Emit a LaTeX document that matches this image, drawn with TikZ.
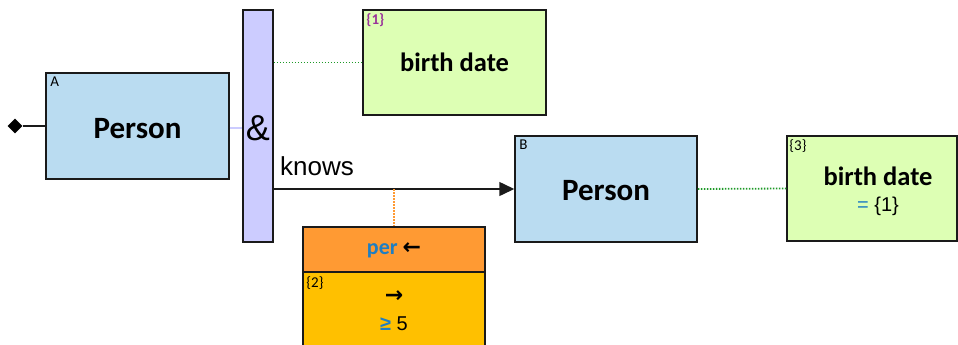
\documentclass[tikz,border=0pt]{standalone}
\usepackage{fontspec}
\setmainfont{Liberation Sans}
\newfontfamily\calfnt{Carlito}
\newfontfamily\dvfnt{DejaVu Sans}
\usetikzlibrary{shapes.geometric,arrows.meta}
\definecolor{pblue}{HTML}{BADCF1}
\definecolor{pgreen}{HTML}{DDFFB4}
\definecolor{plav}{HTML}{CCCCFF}
\definecolor{porange}{HTML}{FF9A33}
\definecolor{pyellow}{HTML}{FFC000}
\definecolor{tblue}{HTML}{1F7EC2}
\definecolor{tpurple}{HTML}{993399}
\definecolor{dgreen}{HTML}{1E9A28}
\definecolor{dorange}{HTML}{FF9A33}
\definecolor{bord}{HTML}{1A1A1A}
\tikzset{
  boxs/.style={draw=bord,line width=1.5pt,inner sep=0pt,rectangle},
  big/.style={font=\calfnt\bfseries\fontsize{31}{31}\selectfont},
  mid/.style={font=\calfnt\bfseries\fontsize{26.5}{26.5}\selectfont},
  tag/.style={font=\calfnt\fontsize{15}{15}\selectfont,anchor=north west,inner sep=0pt},
  gdot/.style={dgreen,line width=1.8pt,dash pattern=on 1.6pt off 1.4pt},
  arw/.style={font=\dvfnt\bfseries\fontsize{22}{22}\selectfont,inner sep=0pt},
}
\begin{document}
\begin{tikzpicture}[x=1pt,y=-1pt]
\useasboundingbox (0,0) rectangle (958,345);
\clip (0,0) rectangle (958,345);
% nodes
\node[boxs,fill=pblue,minimum width=183pt,minimum height=106pt] (A) at (137.5,126) {};
\node[boxs,fill=plav,minimum width=30pt,minimum height=232pt] (bar) at (258,126) {};
\node[boxs,fill=pgreen,minimum width=183pt,minimum height=105pt] (b1) at (454.5,62.5) {};
\node[boxs,fill=pblue,minimum width=182pt,minimum height=106pt] (B) at (606,189) {};
\node[boxs,fill=pgreen,minimum width=170pt,minimum height=105pt] (b3) at (872,188.5) {};
\node[boxs,fill=pyellow,minimum width=182pt,minimum height=80pt] (yel) at (394,312) {};
\node[boxs,fill=porange,minimum width=182pt,minimum height=45pt] (ora) at (394,249.5) {};
% texts
\node[big] (tA) at ([yshift=-2.5pt]A.center) {Person};
\node[tag] (lA) at ([xshift=5pt,yshift=-4pt]A.north west) {A};
\node[big] (tB) at ([yshift=-2pt]B.center) {Person};
\node[tag] (lB) at ([xshift=5pt,yshift=-4pt]B.north west) {B};
\node[font=\fontsize{36}{36}\selectfont,inner sep=0pt] (amp) at (258,128) {\&};
\node[mid] (t1) at ([yshift=0pt]b1.center) {birth date};
\node[tag,text=tpurple,font=\calfnt\bfseries\fontsize{15}{15}\selectfont] (l1) at ([xshift=4pt,yshift=-4pt]b1.north west) {\{1\}};
\node[mid] (t3) at (878,176) {birth date};
\node[font=\fontsize{20}{20}\selectfont] (e3) at (878,206) {\textcolor{tblue}{=} \{1\}};
\node[tag] (l3) at ([xshift=3pt,yshift=-4pt]b3.north west) {\{3\}};
\node[font=\fontsize{26}{26}\selectfont,anchor=west,inner sep=0pt] (kn) at (280,166) {knows};
\node[inner sep=0pt] (per) at (394,250) {\textcolor{tblue}{\calfnt\bfseries\fontsize{22}{22}\selectfont per}\hspace{5pt}{\dvfnt\bfseries\fontsize{22}{22}\selectfont ←}};
\node[tag] (l2) at ([xshift=4pt,yshift=-4pt]yel.north west |- ora.south) {\{2\}};
\node[arw] (ar) at (394,297) {→};
\node[font=\fontsize{20}{20}\selectfont,inner sep=0pt] (ge) at (394,324) {\textcolor{tblue}{\textbf{≥}} 5};
\node[diamond,fill=black,inner sep=0pt,minimum width=15pt,minimum height=15pt] (dia) at (15,126) {};
% connectors
\draw[line width=1.5pt,bord] (dia) -- (A.west);
\draw[line width=1.5pt,plav] (A.east |- amp) -- (bar.west |- amp);
\draw[gdot] (bar.east |- b1.west) -- (b1.west);
\coordinate (kstart) at (bar.east |- B.west);
\draw[line width=1.5pt,bord,-{Triangle[length=15pt,width=14pt]}] (kstart) -- (B.west);
\coordinate (ojoin) at (ora.north |- B.west);
\draw[dorange,line width=1.8pt,dash pattern=on 1.6pt off 1.4pt] (ojoin) -- (ora.north);
\draw[gdot] (B.east) -- (b3.west);
\end{tikzpicture}
\end{document}
